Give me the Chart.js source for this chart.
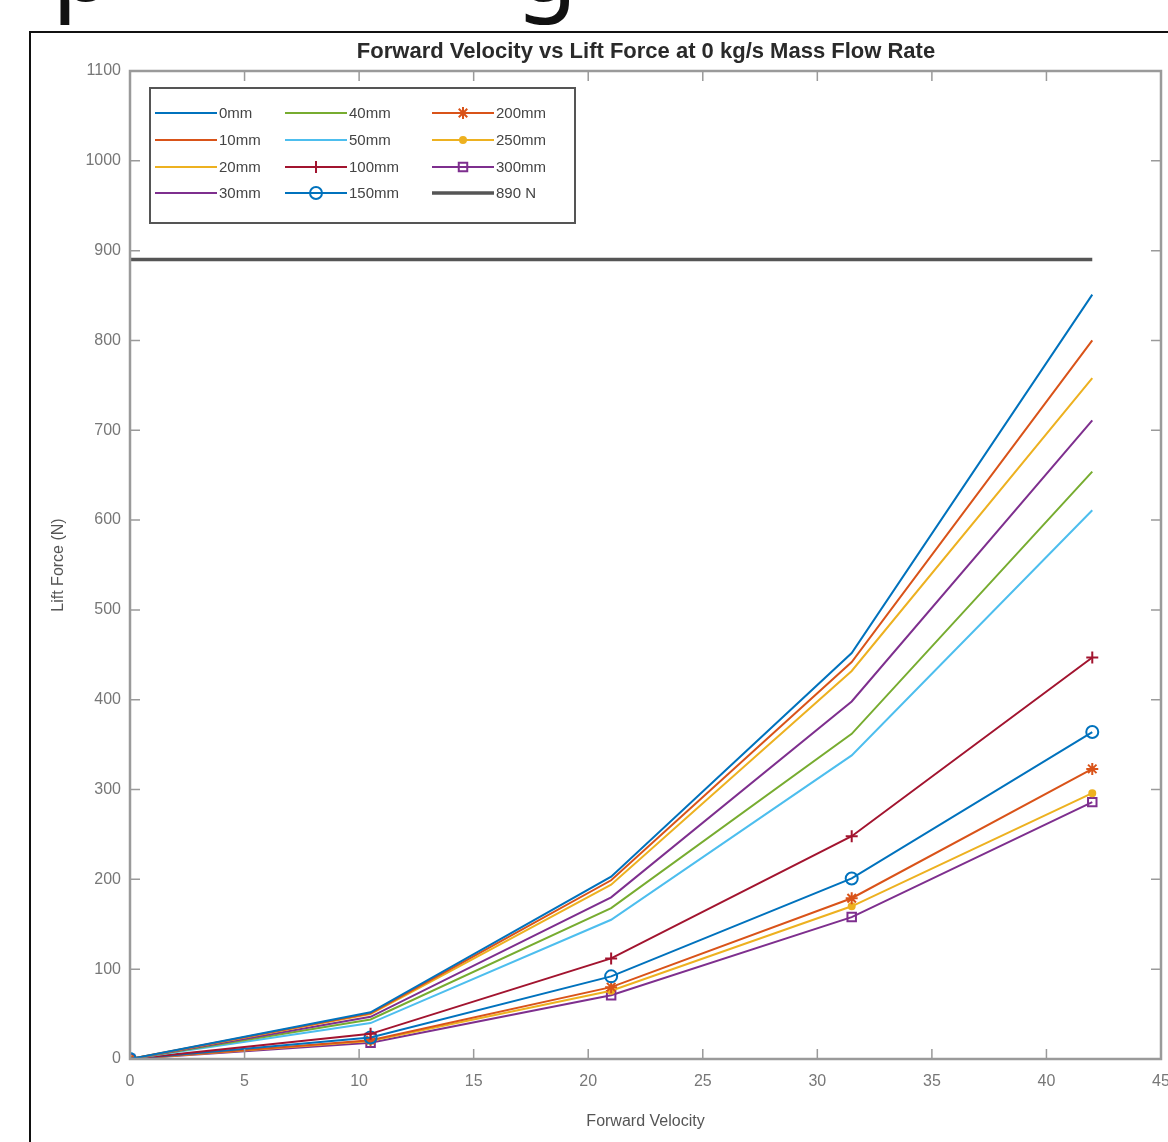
<!DOCTYPE html>
<html>
<head>
<meta charset="utf-8">
<script src="https://cdn.jsdelivr.net/npm/chart.js@4.4.1/dist/chart.umd.min.js"></script>
<style>
  html, body { margin: 0; padding: 0; background: #fff; }
  #wrap { position: relative; width: 1168px; height: 1142px; overflow: hidden; }
  #frame { position: absolute; left: 29px; top: 31px; width: 1200px; height: 1200px;
           border-left: 2px solid #111; border-top: 2px solid #111; }
  .cut { position: absolute; font-family: 'Noto Sans', sans-serif; font-size: 100px; color: #111; line-height: 1; }
  canvas { position: absolute; left: 0; top: 0; }
</style>
</head>
<body>
<div id="wrap">
  <span class="cut" style="left:52px; top:-88px;">p</span>
  <span class="cut" style="left:516px; top:-88px;">g</span>
  <div id="frame"></div>
  <canvas id="myChart" width="1168" height="1142"></canvas>
</div>
<script>
'use strict';
// values
var velocity = [0, 10.5, 21, 31.5, 42];
var labels = ['0mm', '10mm', '20mm', '30mm', '40mm', '50mm', '100mm', '150mm', '200mm', '250mm', '300mm', '890 N'];
var lift0   = [0, 52, 203, 452, 851];
var lift10  = [0, 51, 199, 442, 800];
var lift20  = [0, 50, 194, 432, 758];
var lift30  = [0, 47, 180, 398, 711];
var lift40  = [0, 44, 168, 362, 654];
var lift50  = [0, 40, 155, 338, 611];
var lift100 = [0, 28, 112, 248, 447];
var lift150 = [0, 24, 92, 201, 364];
var lift200 = [0, 21, 80, 179, 323];
var lift250 = [0, 20, 76, 170, 296];
var lift300 = [0, 18, 71, 158, 286];
var limit   = [890, 890, 890, 890, 890];
var yTicks = [0, 100, 200, 300, 400, 500, 600, 700, 800, 900, 1000, 1100];
var xTicks = [0, 5, 10, 15, 20, 25, 30, 35, 40, 45];

var series = [lift0, lift10, lift20, lift30, lift40, lift50, lift100, lift150, lift200, lift250, lift300, limit];
var colors = ['#0072BD', '#D95319', '#EDB120', '#7E2F8E', '#77AC30', '#4DBEEE', '#A2142F',
              '#0072BD', '#D95319', '#EDB120', '#7E2F8E', '#555555'];
var markers = [false, false, false, false, false, false, 'cross', 'circle', 'star', 'dot', 'rect', false];

var fontFam = "'Liberation Sans', Arial, sans-serif";
var axisColor = '#9a9a9a';
var textColor = '#777777';

function toPoints(arr) {
  var out = [];
  for (var i = 0; i < arr.length; i++) out.push({x: velocity[i], y: arr[i]});
  return out;
}

var datasets = [];
for (var i = 0; i < series.length; i++) {
  var m = markers[i];
  datasets.push({
    label: labels[i],
    data: toPoints(series[i]),
    borderColor: colors[i],
    backgroundColor: m === 'dot' ? colors[i] : 'rgba(0,0,0,0)',
    borderWidth: i === 11 ? 3.5 : 2,
    tension: 0,
    pointStyle: m === 'dot' ? 'circle' : (m || 'circle'),
    pointRadius: m ? (m === 'dot' ? 3 : 6) : 0,
    pointBorderWidth: 2,
    pointBorderColor: colors[i],
    pointBackgroundColor: m === 'dot' ? colors[i] : 'rgba(0,0,0,0)',
    order: i === 11 ? 20 : i
  });
}

// box + inward ticks like the original figure
var boxPlugin = {
  id: 'box',
  afterDatasetsDraw: function(chart) {
    var c = chart.ctx, a = chart.chartArea;
    var xs = chart.scales.x, ys = chart.scales.y;
    c.save();
    c.strokeStyle = axisColor;
    c.lineWidth = 2.5;
    c.strokeRect(a.left, a.top, a.right - a.left, a.bottom - a.top);
    c.lineWidth = 1.5;
    c.beginPath();
    xTicks.forEach(function(v) {
      var px = xs.getPixelForValue(v);
      c.moveTo(px, a.bottom); c.lineTo(px, a.bottom - 10);
      c.moveTo(px, a.top); c.lineTo(px, a.top + 10);
    });
    yTicks.forEach(function(v) {
      var py = ys.getPixelForValue(v);
      c.moveTo(a.left, py); c.lineTo(a.left + 10, py);
      c.moveTo(a.right, py); c.lineTo(a.right - 10, py);
    });
    c.stroke();
    c.restore();
  },
  afterDraw: function(chart) {
    var c = chart.ctx;
    c.save();
    // title
    c.fillStyle = '#2a2a2a';
    c.font = 'bold 22px ' + fontFam;
    c.textAlign = 'center';
    c.textBaseline = 'middle';
    c.fillText('Forward Velocity vs Lift Force at 0 kg/s Mass Flow Rate', 646, 52);
    // legend
    var bx = 150, by = 88, bw = 425, bh = 135;
    c.fillStyle = '#fff';
    c.fillRect(bx, by, bw, bh);
    c.strokeStyle = '#555';
    c.lineWidth = 2;
    c.strokeRect(bx, by, bw, bh);
    var colX = [155, 285, 432];
    var rowY = [113, 140, 167, 193];
    c.font = '15px ' + fontFam;
    c.textAlign = 'left';
    chart.data.datasets.forEach(function(ds, k) {
      var x0 = colX[Math.floor(k / 4)], y0 = rowY[k % 4];
      c.strokeStyle = ds.borderColor;
      c.lineWidth = ds.borderWidth;
      c.beginPath();
      c.moveTo(x0, y0); c.lineTo(x0 + 62, y0);
      c.stroke();
      if (ds.pointRadius > 0 && Chart.helpers && Chart.helpers.drawPoint) {
        c.fillStyle = ds.pointBackgroundColor;
        c.lineWidth = ds.pointBorderWidth;
        Chart.helpers.drawPoint(c, {pointStyle: ds.pointStyle, radius: ds.pointRadius, rotation: 0, borderWidth: ds.pointBorderWidth}, x0 + 31, y0);
      }
      c.fillStyle = '#444';
      c.fillText(ds.label, x0 + 64, y0 + 1);
    });
    c.restore();
  }
};

var ctx = document.getElementById('myChart');
var myChart = new Chart(ctx, {
  type: 'line',
  data: { datasets: datasets },
  plugins: [boxPlugin],
  options: {
    responsive: false,
    animation: false,
    events: [],
    layout: { autoPadding: false, padding: { top: 71, right: 7, left: 0, bottom: 0 } },
    plugins: { legend: { display: false }, tooltip: { enabled: false } },
    scales: {
      x: {
        type: 'linear', min: 0, max: 45,
        afterBuildTicks: function(s) { s.ticks = xTicks.map(function(v) { return {value: v}; }); },
        afterFit: function(s) { s.height = 83; s.paddingLeft = 0; s.paddingRight = 0; },
        ticks: { color: textColor, padding: 13, font: { family: fontFam, size: 16 }, maxRotation: 0,
                 callback: function(v) { return String(v); } },
        grid: { display: false, drawTicks: false },
        border: { display: false },
        title: { display: true, text: 'Forward Velocity', color: '#555', padding: { top: 0, bottom: 11 }, font: { family: fontFam, size: 16 } }
      },
      y: {
        type: 'linear', min: 0, max: 1100,
        afterBuildTicks: function(s) { s.ticks = yTicks.map(function(v) { return {value: v}; }); },
        afterFit: function(s) { s.width = 130; s.paddingTop = 0; s.paddingBottom = 0; },
        ticks: { color: textColor, padding: 9, font: { family: fontFam, size: 16 },
                 callback: function(v) { return String(v); } },
        grid: { display: false, drawTicks: false },
        border: { display: false },
        title: { display: true, text: 'Lift Force (N)', color: '#555', padding: { top: 49, bottom: 0 }, font: { family: fontFam, size: 16 } }
      }
    }
  }
});
</script>
</body>
</html>
